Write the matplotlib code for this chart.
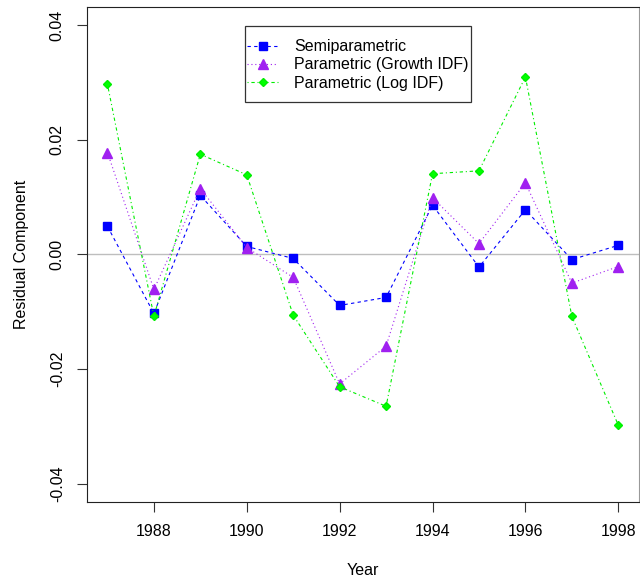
import numpy as np
import matplotlib.pyplot as plt
from matplotlib.patches import Rectangle

plt.rcParams['font.family'] = ['Liberation Sans', 'DejaVu Sans']

years = [1987, 1988, 1989, 1990, 1991, 1992, 1993, 1994, 1995, 1996, 1997, 1998]
semiparametric = [0.0049, -0.0103, 0.0103, 0.0014, -0.0007, -0.0089, -0.0075, 0.0086,
                  -0.0022, 0.0078, -0.0009, 0.0016]
growth_idf = [0.0178, -0.0061, 0.0115, 0.0012, -0.0040, -0.0226, -0.0160, 0.0099,
              0.0019, 0.0125, -0.0050, -0.0021]
log_idf = [0.0297, -0.0108, 0.0175, 0.0139, -0.0106, -0.0231, -0.0265, 0.0141,
           0.0146, 0.0310, -0.0108, -0.0298]

x_ticks = [1988, 1990, 1992, 1994, 1996, 1998]
y_ticks = [-0.04, -0.02, 0.0, 0.02, 0.04]
y_tick_labels = ["-0.04", "-0.02", "0.00", "0.02", "0.04"]

fs = 11.5

fig = plt.figure(figsize=(6.4, 5.85), dpi=100)
ax = fig.add_axes([0.136, 0.142, 0.862, 0.846])

ax.axhline(0, color='#bebebe', lw=1.0, zorder=1)

ax.plot(years, semiparametric, color='#0000ff', ls=(0, (3, 3)), lw=0.8,
        marker='s', ms=6, mec='#0000ff', label='Semiparametric', zorder=3)
ax.plot(years, growth_idf, color='#a020f0', ls=(0, (1, 2.5)), lw=0.8,
        marker='^', ms=7, mec='#a020f0', label='Parametric (Growth IDF)', zorder=3)
ax.plot(years, log_idf, color='#00ee00', ls=(0, (1, 2.5, 3, 2.5)), lw=0.8,
        marker='D', ms=4, mec='#00ee00', mfc='#00ff00', label='Parametric (Log IDF)', zorder=3)

ax.set_xlim(1986.56, 1998.44)
ax.set_ylim(-0.0432, 0.0432)
ax.set_xticks(x_ticks)
ax.set_xticklabels([str(y) for y in x_ticks], fontsize=fs)
ax.set_yticks(y_ticks)
ax.set_yticklabels(y_tick_labels, fontsize=fs, rotation=90, va='center')
ax.tick_params(direction='out', length=7, width=0.8, colors='#333333', labelcolor='black', pad=9)

for s in ax.spines.values():
    s.set_linewidth(0.8)
    s.set_color('#222222')
ax.spines['right'].set_color('#999999')

ax.set_xlabel('Year', fontsize=fs, labelpad=17)
ax.set_ylabel('Residual Component', fontsize=fs, labelpad=15)

# legend box drawn as in R: tight on the left, roomy top and bottom
ax.add_patch(Rectangle((0.2862, 0.808), 0.4095, 0.1536, transform=ax.transAxes,
                       facecolor='white', edgecolor='#333333', lw=0.9, zorder=4))
leg = ax.legend(loc='upper left', bbox_to_anchor=(0.290, 0.935), borderaxespad=0,
                borderpad=0, fontsize=fs, frameon=False,
                handlelength=1.95, handletextpad=1.0, labelspacing=0.2)
leg.set_zorder(5)

fig.savefig('out.png', dpi=100)
